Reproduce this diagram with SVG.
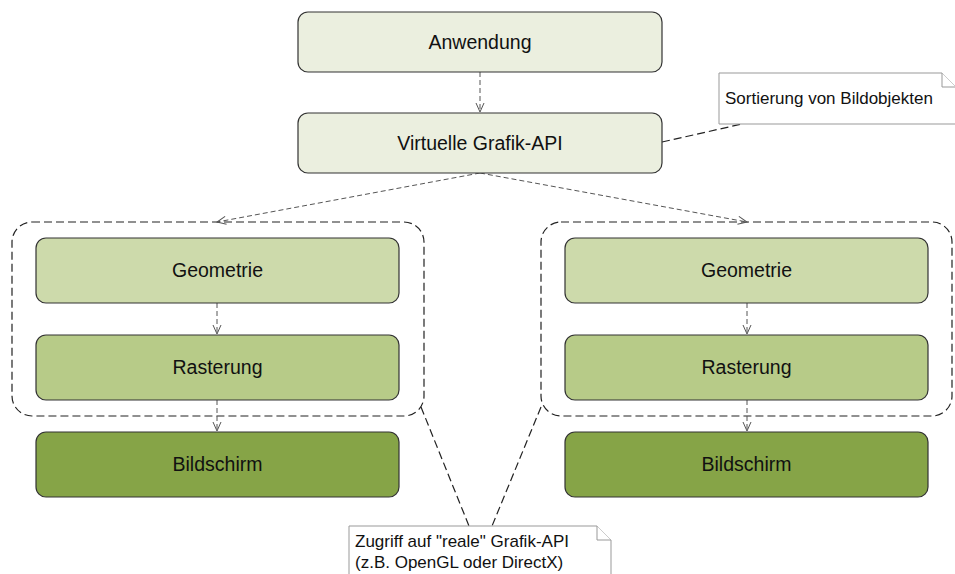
<svg xmlns="http://www.w3.org/2000/svg" width="955" height="574" viewBox="0 0 955 574">
<defs>
<style>
.box{stroke:#333;stroke-width:1.2}
.top{fill:#ebefdf}
.geo{fill:#cddaab}
.ras{fill:#b7cb88}
.bild{fill:#86a447}
.lbl{font-family:"Liberation Sans",Arial,sans-serif;font-size:19.5px;fill:#111;text-anchor:middle}
.ntxt{font-family:"Liberation Sans",Arial,sans-serif;font-size:17px;fill:#111}
.cont{fill:none;stroke:#222;stroke-width:1.2;stroke-dasharray:8,4}
.conn{fill:none;stroke:#555;stroke-width:1;stroke-dasharray:5,3}
.nline{fill:none;stroke:#222;stroke-width:1.2;stroke-dasharray:8,4}
.note{fill:#fff;stroke:#999;stroke-width:1}
</style>
<marker id="arr" markerWidth="12" markerHeight="10" refX="10" refY="5" orient="auto" markerUnits="userSpaceOnUse">
<path d="M1,1 L10,5 L1,9" fill="none" stroke="#555" stroke-width="1"/>
</marker>
</defs>
<rect width="955" height="574" fill="#fff"/>

<g id="containers">
<rect id="group-left" class="cont" x="12" y="222" width="412" height="194" rx="20"/>
<rect id="group-right" class="cont" x="541" y="222" width="411" height="194" rx="20"/>
</g>

<g id="connectors">
<line class="conn" x1="480" y1="72" x2="480" y2="112" marker-end="url(#arr)"/>
<line class="conn" x1="480" y1="173" x2="217" y2="222" marker-end="url(#arr)"/>
<line class="conn" x1="480" y1="173" x2="747" y2="222" marker-end="url(#arr)"/>
<line class="conn" x1="217" y1="303" x2="217" y2="334" marker-end="url(#arr)"/>
<line class="conn" x1="217" y1="400" x2="217" y2="431" marker-end="url(#arr)"/>
<line class="conn" x1="747" y1="303" x2="747" y2="334" marker-end="url(#arr)"/>
<line class="conn" x1="747" y1="400" x2="747" y2="431" marker-end="url(#arr)"/>
<line class="nline" x1="662" y1="142" x2="742" y2="124"/>
<line class="nline" x1="421" y1="407" x2="469" y2="526"/>
<line class="nline" x1="541" y1="407" x2="492" y2="526"/>
</g>

<g id="anwendung">
<rect class="box top" x="298" y="12" width="364" height="60" rx="10"/>
<text class="lbl" x="480" y="49">Anwendung</text>
</g>
<g id="virtuelle-api">
<rect class="box top" x="298" y="113" width="364" height="60" rx="10"/>
<text class="lbl" x="480" y="150">Virtuelle Grafik-API</text>
</g>

<g id="geometrie-left">
<rect class="box geo" x="36" y="238" width="363" height="65" rx="10"/>
<text class="lbl" x="217.5" y="277">Geometrie</text>
</g>
<g id="rasterung-left">
<rect class="box ras" x="36" y="335" width="363" height="65" rx="10"/>
<text class="lbl" x="217.5" y="374">Rasterung</text>
</g>
<g id="bildschirm-left">
<rect class="box bild" x="36" y="432" width="363" height="65" rx="10"/>
<text class="lbl" x="217.5" y="471">Bildschirm</text>
</g>

<g id="geometrie-right">
<rect class="box geo" x="565" y="238" width="363" height="65" rx="10"/>
<text class="lbl" x="746.5" y="277">Geometrie</text>
</g>
<g id="rasterung-right">
<rect class="box ras" x="565" y="335" width="363" height="65" rx="10"/>
<text class="lbl" x="746.5" y="374">Rasterung</text>
</g>
<g id="bildschirm-right">
<rect class="box bild" x="565" y="432" width="363" height="65" rx="10"/>
<text class="lbl" x="746.5" y="471">Bildschirm</text>
</g>

<g id="note-sortierung">
<path class="note" d="M719,73 L942,73 L956,87 L956,124 L719,124 Z"/>
<path class="note" d="M942,73 L942,87 L956,87" fill="none"/>
<text class="ntxt" x="725" y="104">Sortierung von Bildobjekten</text>
</g>

<g id="note-zugriff">
<path class="note" d="M349,526 L597,526 L611,540 L611,580 L349,580 Z"/>
<path class="note" d="M597,526 L597,540 L611,540" fill="none"/>
<text class="ntxt" x="355" y="547">Zugriff auf "reale" Grafik-API</text>
<text class="ntxt" x="355" y="568">(z.B. OpenGL oder DirectX)</text>
</g>
</svg>
